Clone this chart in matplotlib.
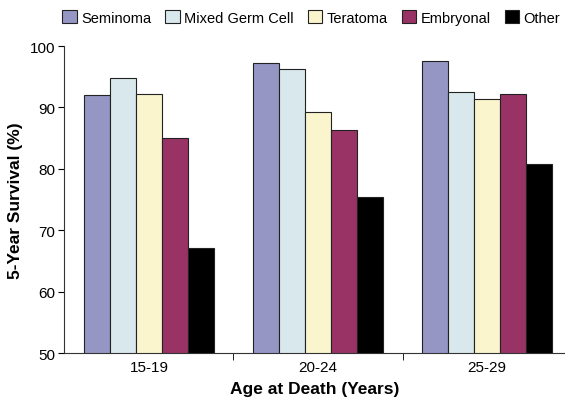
import numpy as np
import matplotlib
matplotlib.use("Agg")
from matplotlib import pyplot as plt

plt.rcParams['font.family'] = ['Liberation Sans', 'DejaVu Sans']

# data
age_groups = ['15-19', '20-24', '25-29']
types = ['Seminoma', 'Mixed Germ Cell', 'Teratoma', 'Embryonal', 'Other']
seminoma = [92.1, 97.3, 97.5]
mixed = [94.8, 96.3, 92.5]
teratoma = [92.2, 89.3, 91.4]
embryonal = [85.0, 86.3, 92.2]
other = [67.2, 75.5, 80.8]
colors = ['#9696C4', '#D9E8EC', '#FAF5CC', '#993366', '#000000']

series = [seminoma, mixed, teratoma, embryonal, other]

fig = plt.figure(figsize=(5.65, 4.02), dpi=100)
ax = fig.add_axes([0.113, 0.119, 0.887, 0.764])

x = np.arange(len(age_groups))
w = 0.154
for i, vals in enumerate(series):
    ax.bar(x + (i - 2) * w, vals, w, color=colors[i], edgecolor='#222222',
           linewidth=0.8, label=types[i])

ax.set_ylim(50, 100)
ax.set_xlim(-0.503, 2.46)
ax.set_yticks([50, 60, 70, 80, 90, 100])
ax.set_xticks(x)
ax.set_xticklabels(age_groups)
ax.tick_params(axis='x', which='major', length=0, labelsize=11, pad=5)
ax.set_xticks([0.5, 1.5], minor=True)
ax.tick_params(axis='x', which='minor', length=5, direction='out')
ax.tick_params(axis='y', labelsize=11, length=4, direction='out', pad=2)

for s in ['top', 'right']:
    ax.spines[s].set_visible(False)
ax.spines['left'].set_color('#333333')
ax.spines['bottom'].set_color('#333333')

ax.set_xlabel('Age at Death (Years)', fontsize=12.5, fontweight='bold', labelpad=5)
ax.set_ylabel('5-Year Survival (%)', fontsize=12.5, fontweight='bold', labelpad=5)

fig.legend(loc='upper center', bbox_to_anchor=(0.551, 1.005), ncol=5, frameon=False,
           fontsize=10.5, handlelength=1.0, handleheight=1.0, handletextpad=0.3,
           columnspacing=0.95)

fig.savefig('out.png', dpi=100)
